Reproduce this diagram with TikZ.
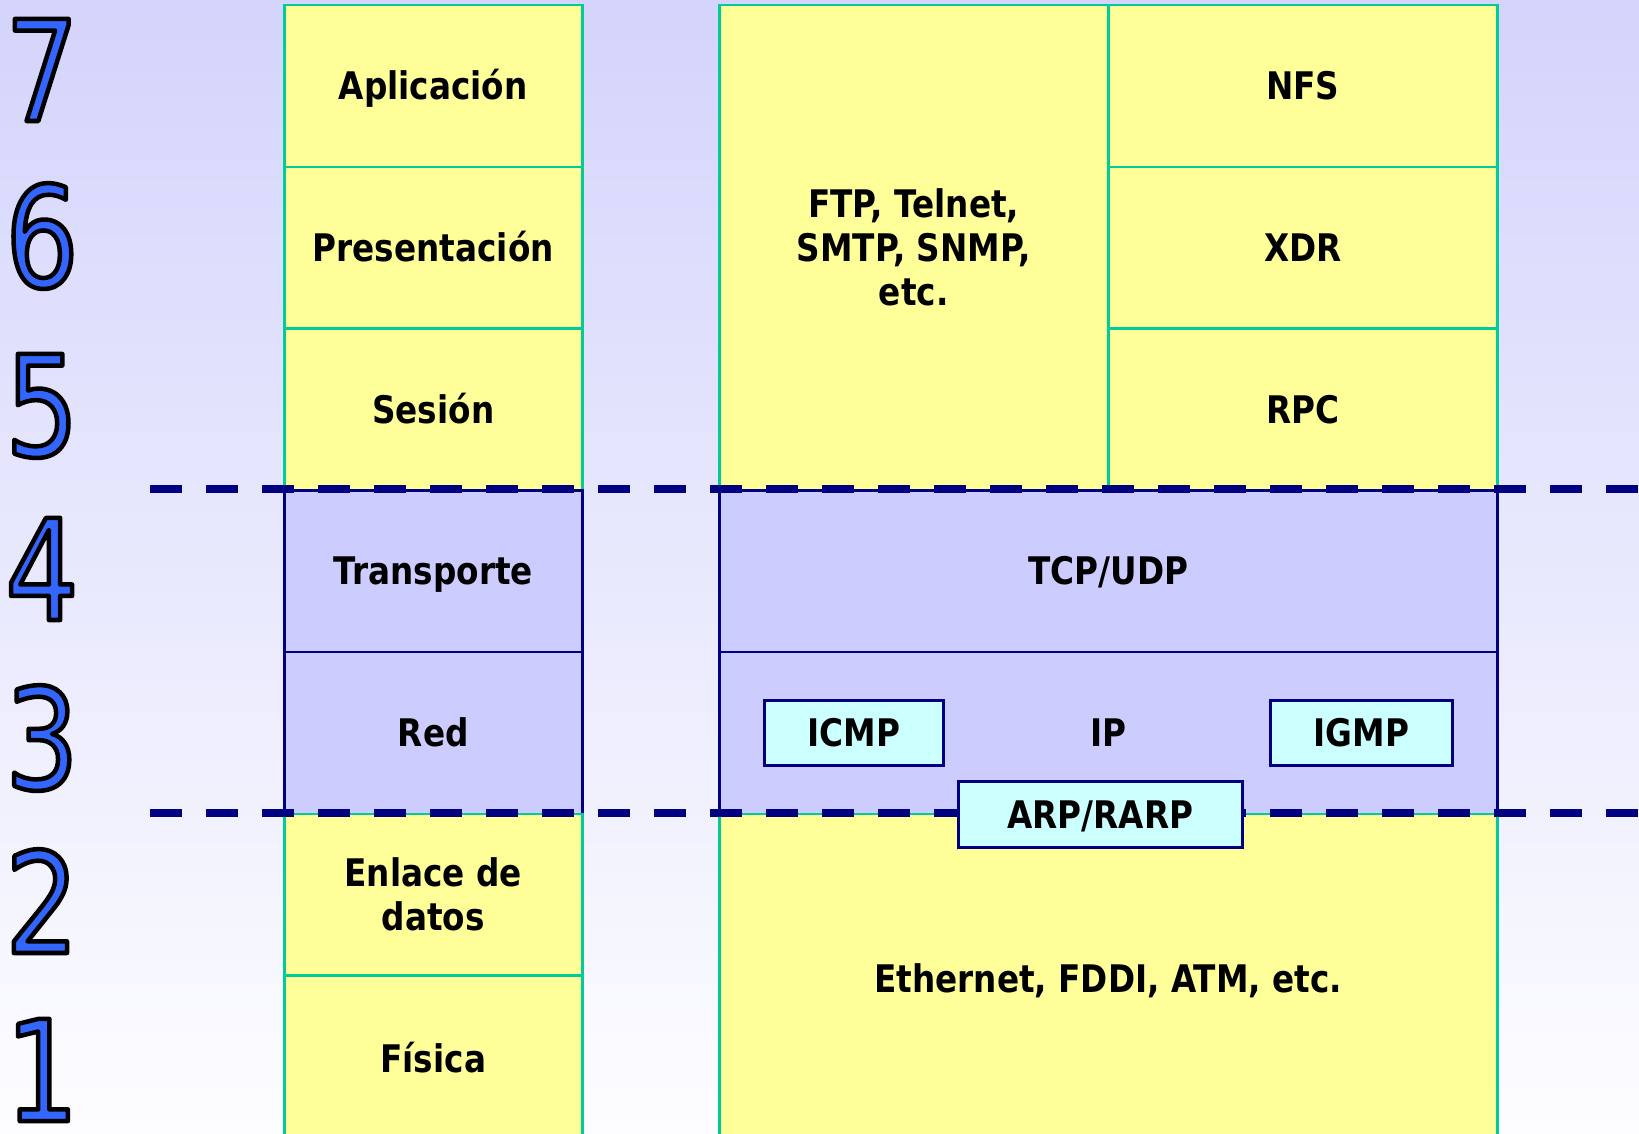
\documentclass[tikz,border=0pt]{standalone}
\usepackage{fontspec}
\setmainfont{DejaVu Sans}
\newfontfamily\labfont{DejaVu Sans}[FakeStretch=0.86]
\newfontfamily\digfont{DejaVu Sans}[FakeStretch=0.82]
\definecolor{bgtop}{HTML}{D4D4FC}
\definecolor{bgbot}{HTML}{FDFDFF}
\definecolor{yel}{HTML}{FFFF99}
\definecolor{teal}{HTML}{00CC99}
\definecolor{lav}{HTML}{CCCCFF}
\definecolor{navy}{HTML}{000080}
\definecolor{cyanbox}{HTML}{CCFFFF}
\definecolor{digit}{HTML}{3366FF}
\tikzset{
  cellbase/.style={rectangle, anchor=north west, inner sep=0pt, align=center,
    font=\labfont\bfseries\fontsize{38}{44}\selectfont, line width=2.5pt},
  one/.style={text height=27.5pt, text depth=0pt},
  ycell/.style={cellbase, fill=yel, draw=teal},
  lcell/.style={cellbase, fill=lav, draw=navy},
  cbox/.style={cellbase, fill=cyanbox, draw=navy},
  dashline/.style={draw=navy, line width=8pt, dash pattern=on 32pt off 24pt},
  digitlabel/.style={inner sep=0pt, anchor=base, font=\digfont\fontsize{140}{140}\selectfont}
}
\newcommand{\OutDigit}[1]{\textcolor{digit}{\special{pdf:literal q 2 Tr 4.5 w 1 j 0 0 0 RG}#1\special{pdf:literal Q}}}
\begin{document}
\begin{tikzpicture}[x=1pt,y=-1pt]
\shade[top color=bgtop, bottom color=bgbot] (0,0) rectangle (1639,1134);
\useasboundingbox (0,0) rectangle (1639,1134);
% left column
\node[ycell, one, minimum width=298pt, minimum height=161.7pt] (app) at (283,4) {Aplicación};
\node[ycell, one, minimum width=298pt, minimum height=161.7pt] (pre) at (283,165.7) {Presentación};
\node[ycell, one, minimum width=298pt, minimum height=161.7pt] (ses) at (283,327.4) {Sesión};
\node[lcell, one, minimum width=298pt, minimum height=161.7pt] (tra) at (283,489.1) {Transporte};
\node[lcell, one, minimum width=298pt, minimum height=161.7pt] (red) at (283,650.8) {Red};
\node[ycell, minimum width=298pt, minimum height=161.7pt] (enl) at (283,812.5) {Enlace de\\datos};
\node[ycell, one, minimum width=298pt, minimum height=166pt] (fis) at (283,974.2) {Física};
% right block
\node[ycell, minimum width=389pt, minimum height=485.1pt] (ftp) at (718,4) {FTP, Telnet,\\SMTP, SNMP,\\etc.};
\node[ycell, one, minimum width=389pt, minimum height=161.7pt] (nfs) at (1107,4) {NFS};
\node[ycell, one, minimum width=389pt, minimum height=161.7pt] (xdr) at (1107,165.7) {XDR};
\node[ycell, one, minimum width=389pt, minimum height=161.7pt] (rpc) at (1107,327.4) {RPC};
\node[lcell, one, minimum width=778pt, minimum height=161.7pt] (tcp) at (718,489.1) {TCP/UDP};
\node[lcell, one, minimum width=778pt, minimum height=161.7pt] (ip) at (718,650.8) {IP};
\node[ycell, one, minimum width=778pt, minimum height=330pt] (eth) at (718,812.5) {Ethernet, FDDI, ATM, etc.};
% dashed separators
\coordinate (d1l) at (150,489.1);
\coordinate (d1r) at (1639,489.1);
\coordinate (d2l) at (150,812.5);
\coordinate (d2r) at (1639,812.5);
\draw[dashline] (d1l) -- (d1r);
\draw[dashline] (d2l) -- (d2r);
% small protocol boxes
\node[cbox, one, minimum width=179pt, minimum height=65pt] (icmp) at (763,699) {ICMP};
\node[cbox, one, minimum width=182pt, minimum height=65pt] (igmp) at (1269,699) {IGMP};
\node[cbox, one, minimum width=284pt, minimum height=66pt] (arp) at (957,780) {ARP/RARP};
% layer numbers (anchored on baseline)
\node[digitlabel] (n7) at (42,121) {\OutDigit{7}};
\node[digitlabel] (n6) at (42,287) {\OutDigit{6}};
\node[digitlabel] (n5) at (42,456) {\OutDigit{5}};
\node[digitlabel] (n4) at (42,620) {\OutDigit{4}};
\node[digitlabel] (n3) at (42,789) {\OutDigit{3}};
\node[digitlabel] (n2) at (42,953) {\OutDigit{2}};
\node[digitlabel] (n1) at (42,1121) {\OutDigit{1}};
\end{tikzpicture}
\end{document}
